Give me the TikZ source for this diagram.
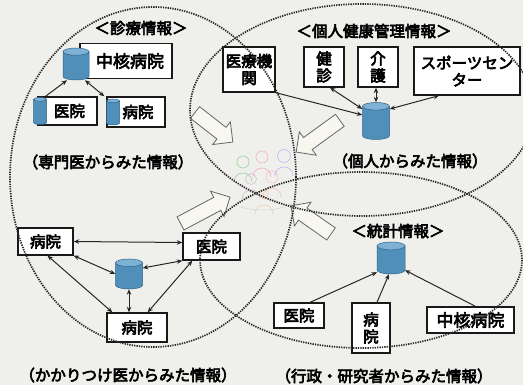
\documentclass[tikz,border=0pt]{standalone}
\usepackage{fontspec}
\newfontfamily\jp{Noto Sans CJK JP}[FakeBold=4]
\usetikzlibrary{shapes.arrows,arrows.meta}

\definecolor{paper}{HTML}{EFEFEC}
\definecolor{dbblue}{HTML}{4F8FBA}
\definecolor{dbtop}{HTML}{7DB2D6}
\definecolor{dbedge}{HTML}{2F6288}
\definecolor{arrowfill}{HTML}{F7F7F0}

\tikzset{
  dotring/.style={draw=black!85, line width=1.7pt, dash pattern=on 1.3pt off 1.1pt},
  box/.style={draw=black!90, line width=1.3pt, fill=white, inner sep=1pt,
    font=\jp\fontsize{15.5}{17}\selectfont, align=center},
  bigname/.style={font=\jp\fontsize{17}{19}\selectfont},
  title/.style={font=\jp\fontsize{15.5}{17}\selectfont, inner sep=0pt},
  dbspot/.style={inner sep=0pt, draw=none},
  dbbody/.style={fill=dbblue, draw=dbedge, line width=0.5pt},
  dbcap/.style={fill=dbtop, draw=dbedge, line width=0.5pt},
  tip/.tip={Stealth[length=5.5pt,width=4.5pt]},
  both/.style={line width=1pt, draw=black!85, tip-tip},
  feed/.style={line width=1pt, draw=black!85, -tip},
  flow/.style={single arrow, draw=black!60, fill=arrowfill, line width=0.8pt,
    inner xsep=0pt, inner ysep=7pt, minimum width=28pt,
    single arrow head extend=7pt, single arrow head indent=0pt},
  head/.style={line width=0.6pt},
}

% database cylinder: name, centre x, centre y, width, height
\newcommand\dbcyl[5]{%
  \node[dbspot, minimum width=#4pt, minimum height=#5pt] (#1) at (#2,#3) {};
  \filldraw[dbbody] ({#2-#4/2},{#3-#5/2+0.14*#4}) -- ({#2-#4/2},{#3+#5/2-0.14*#4})
    arc[start angle=180, end angle=0, x radius=#4/2, y radius=0.14*#4]
    -- ({#2+#4/2},{#3-#5/2+0.14*#4}) -- cycle;
  \filldraw[dbcap] (#2,{#3-#5/2+0.14*#4}) ellipse [x radius=#4/2, y radius=0.14*#4];
}

\begin{document}
\begin{tikzpicture}[x=1pt,y=-1pt]
\fill[paper] (0,0) rectangle (523,385);
\useasboundingbox (0,0) rectangle (523,385);

% --- group of people in the middle ---
\begin{scope}[head, opacity=0.5]
  \foreach \x/\y/\c/\r in {243/162/green!45!gray/6, 262/157/magenta!55/6,
      284/156/blue!45/6.5, 251/179/violet!45/5.5, 272/177/pink!80!red/6,
      264/194/orange!60/4.5} {
    \draw[\c] (\x,\y) circle (\r);
    \draw[\c] (\x-9,\y+20) .. controls (\x-9,\y+8) and (\x+9,\y+8) .. (\x+9,\y+20);
  }
  \draw[gray!50] (236,205) .. controls (250,212) and (280,212) .. (292,203);
\end{scope}

% --- hollow arrows pointing at the people ---
\node[flow, minimum height=48pt, rotate=-38]  (f1) at (211,125) {};
\node[flow, minimum height=54pt, rotate=-144] (f2) at (321,134) {};
\node[flow, minimum height=56pt, rotate=28]   (f3) at (202,212) {};
\node[flow, minimum height=49pt, rotate=145]  (f4) at (314,222) {};

% --- clinical information (top left) ---
\node[title] (t1) at (141,28) {＜診療情報＞};
\node[box, bigname, minimum width=92pt, minimum height=35pt] (c1) at (126,61) {\hspace*{8pt}中核病院};
\dbcyl{d1}{76}{64}{26}{32}
\node[box, minimum width=59pt, minimum height=28pt] (i1) at (67.5,111) {\hspace*{4pt}医院};
\dbcyl{d1a}{40}{111}{13}{27}
\node[box, minimum width=58pt, minimum height=30pt] (h1) at (136,112) {\hspace*{4pt}病院};
\dbcyl{d1b}{113}{112}{13}{26}
\draw[feed] ([xshift=-22pt]i1.north) -- ([xshift=-9pt]d1.south);
\draw[both] ([xshift=9pt]d1.south) -- ([xshift=-2pt]h1.north west);
\node[title] (s1) at (108,162) {（専門医からみた情報）};

% --- personal health records (top right) ---
\node[title] (t2) at (374,31) {＜個人健康管理情報＞};
\node[box, minimum width=52pt, minimum height=45pt] (m2) at (249,69.5) {医療機\\関};
\node[box, minimum width=40pt, minimum height=40pt] (k2) at (324,67) {健\\診};
\node[box, minimum width=40pt, minimum height=40pt] (n2) at (378,67) {介\\護};
\node[box, minimum width=106pt, minimum height=48pt] (p2) at (467,71) {スポーツセン\\ター};
\dbcyl{d2}{376}{121}{27}{37}
\draw[feed] (m2.south east) -- ([yshift=6pt]d2.west);
\draw[both] ([xshift=6pt]k2.south) -- ([yshift=12pt]d2.west);
\draw[both] (d2.north) -- (d2.north |- n2.south);
\draw[both] ([xshift=-28pt]p2.south) -- ([yshift=12pt]d2.east);
\node[title] (s2) at (410,161) {（個人からみた情報）};

% --- family doctor network (bottom left) ---
\node[box, minimum width=55pt, minimum height=27pt] (h3) at (45.5,241.5) {病院};
\node[box, minimum width=57pt, minimum height=27pt] (i3) at (211.5,246.5) {医院};
\node[box, minimum width=60pt, minimum height=29pt] (g3) at (137,327.5) {病院};
\dbcyl{d3}{129}{274}{27}{30}
\draw[both] (h3.east) -- ([yshift=4pt]i3.west);
\draw[both] (h3.south east) -- (d3.west);
\draw[both] (i3.south west) -- ([yshift=6pt]d3.east);
\draw[both] (d3.south) -- (d3.south |- g3.north);
\draw[both] ([xshift=2pt]h3.south) -- ([xshift=6pt]g3.north west);
\draw[both] ([xshift=10pt]i3.south west) -- ([xshift=-20pt]g3.north east);
\node[title] (s3) at (128,375) {（かかりつけ医からみた情報）};

% --- statistics (bottom right) ---
\node[title] (t4) at (398,231) {＜統計情報＞};
\dbcyl{d4}{391}{258}{28}{32}
\node[box, minimum width=50pt, minimum height=25pt] (i4) at (299,315.5) {医院};
\node[box, minimum width=38pt, minimum height=50pt] (h4) at (371,328) {病\\院};
\node[box, bigname, minimum width=87pt, minimum height=26pt] (c4) at (470.5,320) {中核病院};
\draw[feed] ([xshift=11pt]i4.north) -- ([xshift=-14pt,yshift=2pt]d4.south);
\draw[feed] ([xshift=6pt]h4.north) -- ([xshift=-2pt]d4.south);
\draw[feed] ([xshift=5pt]c4.north) -- ([xshift=14pt,yshift=4pt]d4.south);
\node[title] (s4) at (384,376) {（行政・研究者からみた情報）};

% --- dotted rings around the four viewpoints ---
\draw[dotring] (153,177) ellipse [x radius=143, y radius=170];
\draw[dotring] (362,110) ellipse [x radius=172, y radius=106];
\draw[dotring] (361,260) ellipse [x radius=161, y radius=88];
\end{tikzpicture}
\end{document}
